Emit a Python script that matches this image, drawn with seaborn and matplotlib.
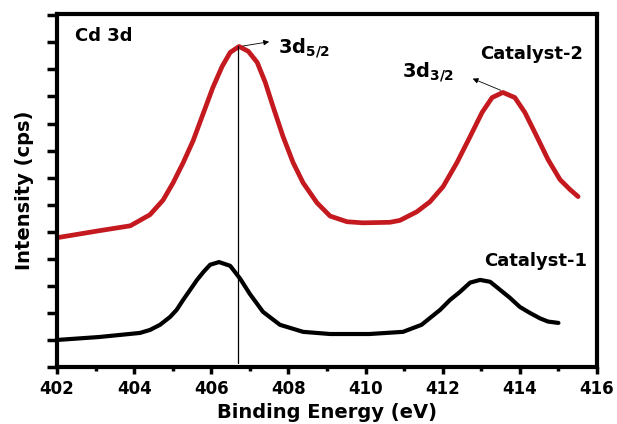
import numpy as np
import pandas as pd
import seaborn as sns
import matplotlib
matplotlib.use("Agg")
import matplotlib.pyplot as plt
from matplotlib.ticker import MultipleLocator, NullFormatter

# Values
cat2_energy = [402.0, 403.1, 403.9, 404.41, 404.75, 405.01, 405.27, 405.53, 405.79,
               406.04, 406.28, 406.49, 406.72, 406.96, 407.19, 407.40, 407.60,
               407.86, 408.12, 408.38, 408.74, 409.08, 409.52, 409.93, 410.63,
               410.89, 411.33, 411.67, 412.01, 412.37, 412.71, 413.02, 413.28,
               413.56, 413.87, 414.13, 414.44, 414.73, 415.04, 415.3, 415.51]
cat2_intensity = [4.78, 5.04, 5.22, 5.63, 6.17, 6.81, 7.55, 8.37, 9.37,
                  10.33, 11.11, 11.63, 11.85, 11.67, 11.26, 10.52, 9.63,
                  8.52, 7.56, 6.81, 6.07, 5.58, 5.37, 5.33, 5.35,
                  5.42, 5.74, 6.11, 6.67, 7.56, 8.52, 9.41, 9.96,
                  10.15, 9.96, 9.41, 8.52, 7.67, 6.93, 6.56, 6.30]

cat1_energy = [402.0, 403.1, 404.15, 404.41, 404.67, 404.93, 405.1, 405.27, 405.45,
               405.63, 405.8, 405.97, 406.2, 406.49, 406.75, 407.0, 407.34,
               407.78, 408.38, 409.08, 410.1, 410.97, 411.45, 411.93, 412.19,
               412.45, 412.71, 412.97, 413.23, 413.49, 413.74, 414.0, 414.26,
               414.52, 414.73, 415.0]
cat1_intensity = [1.0, 1.11, 1.26, 1.37, 1.56, 1.85, 2.11, 2.48, 2.85,
                  3.22, 3.52, 3.78, 3.88, 3.74, 3.26, 2.70, 2.04,
                  1.56, 1.30, 1.22, 1.22, 1.30, 1.56, 2.11, 2.48,
                  2.78, 3.12, 3.22, 3.15, 2.85, 2.56, 2.22, 2.0,
                  1.80, 1.68, 1.63]

x_ticks = [402, 404, 406, 408, 410, 412, 414, 416]

sns.set_style("ticks")
plt.rcParams['font.family'] = ['DejaVu Sans']
plt.rcParams['font.weight'] = 'bold'
plt.rcParams['mathtext.fontset'] = 'dejavusans'
for key in ['text.color', 'axes.labelcolor', 'xtick.color', 'ytick.color', 'axes.edgecolor']:
    plt.rcParams[key] = 'black'

df2 = pd.DataFrame({"energy": cat2_energy, "intensity": cat2_intensity})
df1 = pd.DataFrame({"energy": cat1_energy, "intensity": cat1_intensity})

fig = plt.figure(figsize=(6.17, 4.24), dpi=100)
ax = fig.add_axes([0.0924, 0.1344, 0.8752, 0.8326])

sns.lineplot(data=df2, x="energy", y="intensity", color="#c41a1f", lw=3.4, ax=ax,
             sort=False, solid_joinstyle="round", solid_capstyle="round")
sns.lineplot(data=df1, x="energy", y="intensity", color="black", lw=3.0, ax=ax,
             sort=False, solid_joinstyle="round", solid_capstyle="round")

# vertical marker through the 3d5/2 peak
ax.plot([406.7, 406.7], [0.15, 11.85], color="black", lw=0.9)

ax.set_xlim(402, 416)
ax.set_ylim(0, 13.05)
ax.set_xticks(x_ticks)
ax.xaxis.set_minor_locator(MultipleLocator(1))
ax.yaxis.set_major_locator(MultipleLocator(1))
ax.yaxis.set_major_formatter(NullFormatter())

for side in ["left", "right", "top", "bottom"]:
    ax.spines[side].set_visible(True)
    ax.spines[side].set_linewidth(3)
    ax.spines[side].set_color("black")

ax.tick_params(axis="y", which="major", direction="out", length=7, width=2.5)
ax.tick_params(axis="x", which="major", direction="out", length=5, width=2.5,
               labelsize=12, pad=4)
ax.tick_params(axis="x", which="minor", direction="out", length=3, width=2.5)
for lbl in ax.get_xticklabels():
    lbl.set_fontweight("bold")

ax.set_xlabel("Binding Energy (eV)", fontsize=14, fontweight="bold", labelpad=4)
ax.set_ylabel("Intensity (cps)", fontsize=14, fontweight="bold", labelpad=6)

ax.text(402.47, 12.22, "Cd 3d", fontsize=13, fontweight="bold", ha="left", va="center")
ax.text(412.97, 11.56, "Catalyst-2", fontsize=13, fontweight="bold", ha="left", va="center")
ax.text(413.07, 3.93, "Catalyst-1", fontsize=13, fontweight="bold", ha="left", va="center")

ax.text(407.72, 11.8, r"3d$_{\mathbf{5/2}}$", fontsize=14, fontweight="bold",
        ha="left", va="center")
ax.text(410.95, 10.91, r"3d$_{\mathbf{3/2}}$", fontsize=14, fontweight="bold",
        ha="left", va="center")

arrow = dict(arrowstyle="-|>", color="black", lw=0.6, mutation_scale=8)
ax.annotate("", xy=(407.57, 12.04), xytext=(406.75, 11.85), arrowprops=arrow)
ax.annotate("", xy=(412.71, 10.70), xytext=(413.57, 10.19), arrowprops=arrow)

fig.savefig("out.png", dpi=100)
